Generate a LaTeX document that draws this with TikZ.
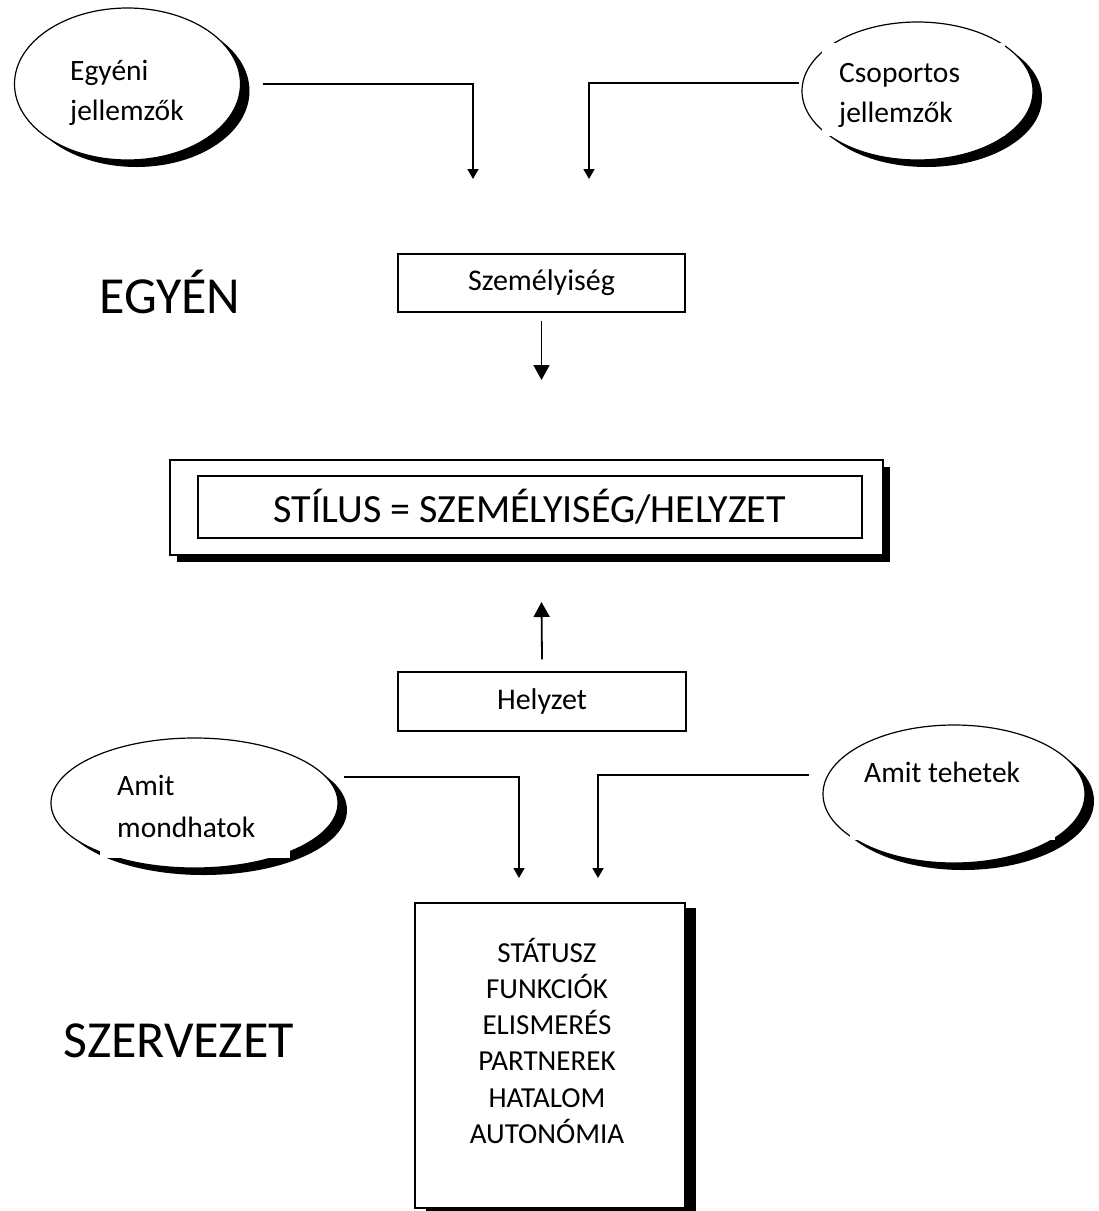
\documentclass[tikz,border=0pt]{standalone}
\usepackage{fontspec}
\setmainfont{Carlito}
\usetikzlibrary{shapes.geometric,arrows.meta,shadows}
\begin{document}
\begin{tikzpicture}[x=1pt,y=-1pt,
  oval/.style={ellipse,draw,line width=1.2pt,fill=white,inner sep=0pt,
    drop shadow={shadow xshift=9pt,shadow yshift=-7pt,fill=black,opacity=1}},
  plainbox/.style={rectangle,draw,line width=1.5pt,fill=white,inner sep=0pt},
  conn/.style={line width=1.8pt},
  smallhead/.style={conn,-{Triangle[length=10pt,width=11pt]}},
  bighead/.style={conn,-{Triangle[length=15pt,width=16pt]}},
  small/.style={font=\fontsize{29.5}{40}\selectfont},
  big/.style={font=\fontsize{52}{60}\selectfont}
]
\useasboundingbox (0,0) rectangle (1099,1211);

% ovals with their shadows
\node[oval,minimum width=226pt,minimum height=152pt] (egy) at (127.5,84) {};
\node[oval,minimum width=231pt,minimum height=138pt] (cso) at (917.5,91) {};
\node[oval,minimum width=287pt,minimum height=130pt] (mond) at (194.5,803) {};
\node[oval,minimum width=262pt,minimum height=138pt] (teh) at (954,794) {};

% white text frames lying over the ovals
\fill[white] (822,43) rectangle (1005,136);
\fill[white] (100,760) rectangle (290,858);
\fill[white] (850,755) rectangle (1055,840);

% oval texts
\node[small,anchor=base west,inner sep=0pt] (egyt) at (70,80)
  {\begin{tabular}[t]{@{}l@{}}Egyéni\\jellemzők\end{tabular}};
\node[small,anchor=base west,inner sep=0pt] (csot) at (839,82)
  {\begin{tabular}[t]{@{}l@{}}Csoportos\\jellemzők\end{tabular}};
\node[font=\fontsize{29.5}{42}\selectfont,anchor=base west,inner sep=0pt] (mondt) at (117,795)
  {\begin{tabular}[t]{@{}l@{}}Amit\\mondhatok\end{tabular}};
\node[small,anchor=base west,inner sep=0pt] (teht) at (864,782) {Amit tehetek};

% side titles
\node[big,anchor=base west,inner sep=0pt] (egyen) at (99,313) {EGYÉN};
\node[big,anchor=base west,inner sep=0pt] (szerv) at (63,1057) {SZERVEZET};

% boxes
\node[plainbox,font=\fontsize{30}{36}\selectfont,minimum width=287pt,minimum height=58pt] (szem) at (541.5,283) {Személyiség};
\node[plainbox,font=\fontsize{30}{36}\selectfont,minimum width=288pt,minimum height=59pt] (hely) at (542,701.5) {Helyzet};

\node[plainbox,minimum width=713pt,minimum height=95pt,
  drop shadow={shadow xshift=7pt,shadow yshift=-7pt,fill=black,opacity=1}] (stilo) at (526.5,507.5) {};
\node[plainbox,minimum width=664pt,minimum height=62pt,font=\fontsize{40}{44}\selectfont] (stili) at (530,507)
  {STÍLUS = SZEMÉLYISÉG/HELYZET};

\node[plainbox,minimum width=270pt,minimum height=305pt,
  drop shadow={shadow xshift=11pt,shadow yshift=-5pt,fill=black,opacity=1}] (org) at (550,1055.5) {};
\node[font=\fontsize{29}{36.3}\selectfont,anchor=base,inner sep=0pt] (orgt) at (547,962)
  {\begin{tabular}[t]{@{}c@{}}STÁTUSZ\\FUNKCIÓK\\ELISMERÉS\\PARTNEREK\\HATALOM\\AUTONÓMIA\end{tabular}};

% arrow ends
\coordinate (t1) at (473,179);
\coordinate (t2) at (589,179);
\coordinate (s2) at (541.5,380);
\coordinate (h2) at (541.5,602);
\coordinate (b1) at (519,878);
\coordinate (b2) at (598,878);

% connectors
\draw[smallhead] ([xshift=21.5pt]egy.east) -| (t1);
\draw[smallhead] ([shift={(-2pt,8pt)}]cso.west) -| (t2);
\draw[bighead] ([yshift=-8pt]szem.south) -- (s2);
\draw[bighead] ([yshift=12pt]hely.north) -- (h2);
\draw[smallhead] ([shift={(5pt,26pt)}]mond.east) -| (b1);
\draw[smallhead] ([shift={(-13pt,19pt)}]teh.west) -| (b2);
\end{tikzpicture}
\end{document}
